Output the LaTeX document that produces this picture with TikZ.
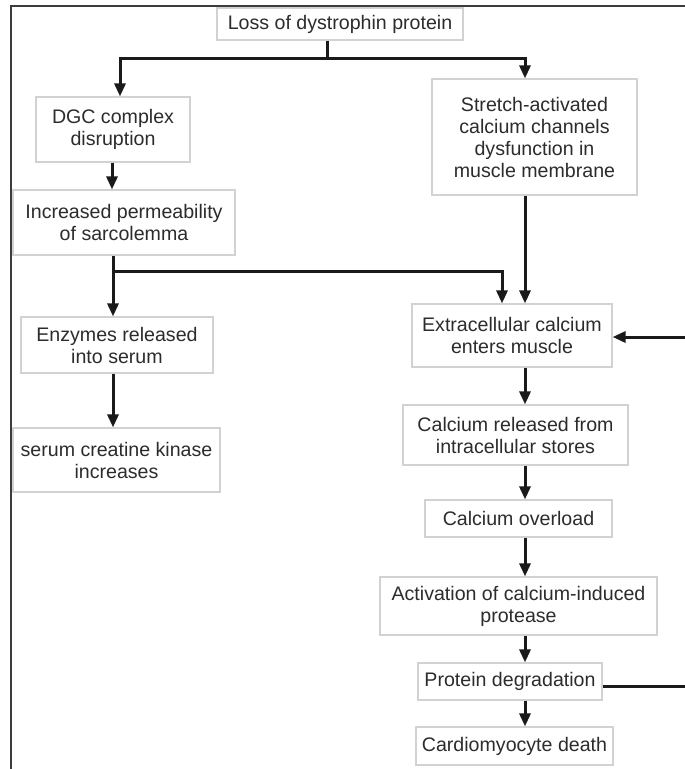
\documentclass[tikz,border=0pt]{standalone}
\usepackage{fontspec}
\setmainfont{Liberation Sans}
\usetikzlibrary{arrows.meta,calc}
\definecolor{txtc}{HTML}{2C2C2C}
\definecolor{boxc}{HTML}{D2D2D2}
\definecolor{linec}{HTML}{1A1A1A}
\definecolor{framec}{HTML}{3C3C3C}
\tikzset{
  flowbox/.style={draw=boxc, line width=1.2pt, fill=white, text=txtc, inner sep=0pt,
    align=center, font=\fontsize{19.6}{22}\selectfont},
  conn/.style={draw=linec, line width=3pt},
  arr/.style={conn, -{Triangle[length=13pt,width=11pt]}},
  framel/.style={draw=framec, line width=2pt}
}
\begin{document}
\begin{tikzpicture}[x=1pt,y=-1pt]
\useasboundingbox (0,0) rectangle (685,769);
\clip (0,0) rectangle (685,769);
\fill[white] (0,0) rectangle (685,769);
% frame
\draw[framel] (11,775) -- (11,6) -- (690,6);
% nodes
\node[flowbox, minimum width=246pt, minimum height=32pt] (loss) at (340,24) {Loss of dystrophin protein};
\node[flowbox, minimum width=154pt, minimum height=65pt] (dgc) at (113,129.5) {DGC complex\\disruption};
\node[flowbox, minimum width=222pt, minimum height=65pt] (perm) at (124,222.5) {Increased permeability\\of sarcolemma};
\node[flowbox, minimum width=192pt, minimum height=56pt] (enz) at (117,345) {Enzymes released\\into serum};
\node[flowbox, minimum width=207pt, minimum height=64pt] (ck) at (116.5,460) {serum creatine kinase\\increases};
\node[flowbox, minimum width=205pt, minimum height=116pt] (sac) at (534.5,137) {Stretch-activated\\calcium channels\\dysfunction in\\muscle membrane};
\node[flowbox, minimum width=200pt, minimum height=63pt] (ext) at (512,335.5) {Extracellular calcium\\enters muscle};
\node[flowbox, minimum width=225pt, minimum height=60pt] (rel) at (515.5,435) {Calcium released from\\intracellular stores};
\node[flowbox, minimum width=187pt, minimum height=37pt] (ovl) at (518.5,518.5) {Calcium overload};
\node[flowbox, minimum width=277pt, minimum height=58pt] (act) at (518.5,606) {Activation of calcium-induced\\protease};
\node[flowbox, minimum width=184pt, minimum height=37pt] (pd) at (510,681.5) {Protein degradation};
\node[flowbox, minimum width=197pt, minimum height=38pt] (cd) at (514.5,746) {Cardiomyocyte death};
% helper coordinates
\coordinate (c1) at (327,58);
\coordinate (cr) at (525,0);
\coordinate (cl) at (113,0);
\coordinate (br) at (502,271);
% connectors from loss
\draw[conn] (loss.south -| c1) -- (c1);
\draw[arr] (c1) -| (dgc.north -| 120,0);
\draw[arr] (c1) -| (sac.north -| cr);
% left column
\draw[arr] (dgc.south -| 112,0) -- (perm.north -| 112,0);
\draw[arr] (perm.south -| cl) -- (enz.north -| cl);
\draw[arr] (cl |- br) -| (ext.north -| br);
\draw[arr] (enz.south -| cl) -- (ck.north -| cl);
% right column
\draw[arr] (sac.south -| cr) -- (ext.north -| cr);
\draw[arr] (ext.south -| cr) -- (rel.north -| cr);
\draw[arr] (rel.south -| cr) -- (ovl.north -| cr);
\draw[arr] (ovl.south -| cr) -- (act.north -| cr);
\draw[arr] (act.south -| cr) -- (pd.north -| cr);
\draw[arr] (pd.south -| cr) -- (cd.north -| cr);
% feedback loop
\draw[arr] ($(pd.east)+(0,4.5)$) -- ++(95,0) |- ($(ext.east)+(0,1.5)$);
\end{tikzpicture}
\end{document}
